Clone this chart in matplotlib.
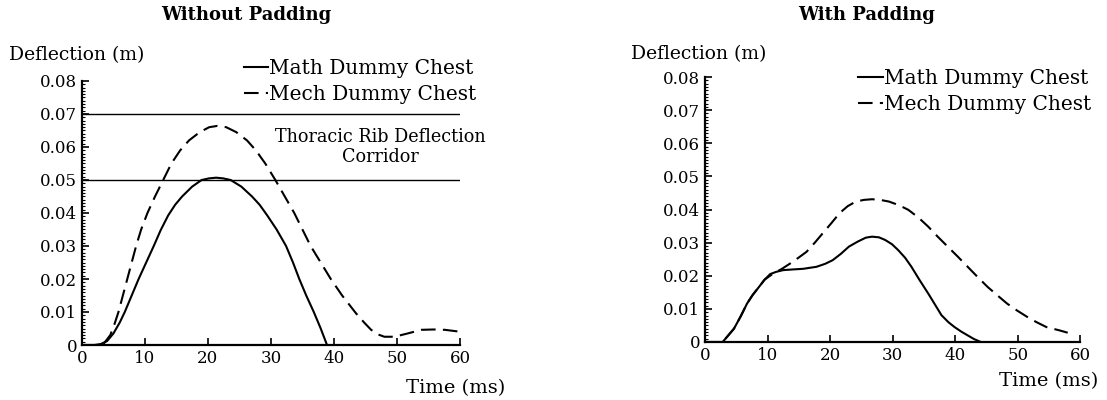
import numpy as np
import matplotlib.pyplot as plt
from matplotlib.ticker import MultipleLocator

plt.rcParams['font.family'] = ['DejaVu Serif']

# --- Without padding ---
t_math_a = [0, 2.0, 3.0, 4.0, 5.0, 6.0, 6.8, 7.9, 9.0, 10.2, 11.4, 12.5, 13.7, 14.8, 15.9, 17.5, 19.0,
            20.2, 21.3, 22.4, 23.6, 25.3, 27.0, 28.2, 29.4, 30.9, 32.4, 33.5, 34.5, 35.6, 36.8, 37.9, 38.9]
y_math_a = [0, 0, 0.0003, 0.0012, 0.0035, 0.0068, 0.0100, 0.0150, 0.0200, 0.0250, 0.0300, 0.0348, 0.0393,
            0.0425, 0.0450, 0.0480, 0.0500, 0.0505, 0.0507, 0.0505, 0.0500, 0.0480, 0.0450, 0.0425, 0.0393,
            0.0350, 0.0300, 0.0250, 0.0200, 0.0150, 0.0100, 0.0050, 0.0]
t_mech_a = [0, 2.5, 3.5, 4.5, 5.2, 5.8, 6.5, 7.2, 7.9, 8.6, 9.4, 10.4, 11.6, 12.9, 14.2, 15.6, 17.0,
            18.7, 20.2, 21.5, 22.9, 24.5, 26.2, 27.6, 29.1, 30.7, 32.2, 33.7, 35.0, 36.3, 37.9, 39.5,
            41.3, 43.5, 44.8, 45.9, 47.0, 48.0, 49.6, 51.7, 53.9, 55.8, 57.6, 59.7]
y_mech_a = [0, 0, 0.0005, 0.0030, 0.0065, 0.0100, 0.0150, 0.0200, 0.0250, 0.0300, 0.0350, 0.0400, 0.0450,
            0.0500, 0.0550, 0.0590, 0.0620, 0.0645, 0.0660, 0.0664, 0.0660, 0.0645, 0.0620, 0.0590, 0.0550,
            0.0500, 0.0450, 0.0400, 0.0350, 0.0300, 0.0250, 0.0200, 0.0150, 0.0096, 0.0068, 0.0046, 0.0032,
            0.0025, 0.0025, 0.0035, 0.0046, 0.0047, 0.0046, 0.0041]
corridor = [0.05, 0.07]

# --- With padding ---
t_math_b = [0, 2.8, 4.6, 5.7, 6.7, 7.6, 8.6, 9.5, 10.4, 11.4, 12.5, 14.0, 15.7, 17.8, 19.2, 20.4, 21.7,
            23.0, 24.4, 25.7, 26.7, 27.8, 28.8, 29.9, 30.9, 32.0, 33.0, 34.3, 35.7, 36.8, 37.8, 38.9,
            39.9, 41.0, 42.0, 43.0, 44.1]
y_math_b = [0, 0, 0.0040, 0.0078, 0.0116, 0.0142, 0.0166, 0.0188, 0.0205, 0.0212, 0.0217, 0.0219, 0.0221,
            0.0227, 0.0236, 0.0247, 0.0266, 0.0288, 0.0303, 0.0315, 0.0318, 0.0316, 0.0308, 0.0295, 0.0277,
            0.0254, 0.0227, 0.0187, 0.0146, 0.0112, 0.0081, 0.0060, 0.0045, 0.0031, 0.0020, 0.0009, 0.0]
t_mech_b = [0, 2.8, 4.6, 5.7, 6.7, 7.6, 8.6, 9.5, 10.9, 12.2, 13.6, 14.9, 16.2, 17.5, 18.8, 20.2, 21.5,
            22.8, 24.1, 25.4, 26.7, 28.0, 29.4, 31.0, 32.5, 34.1, 35.7, 37.2, 38.8, 40.4, 42.0, 43.6,
            45.2, 46.8, 48.3, 49.9, 51.5, 53.0, 54.6, 56.7, 58.0]
y_mech_b = [0, 0, 0.0040, 0.0078, 0.0116, 0.0142, 0.0166, 0.0188, 0.0207, 0.0220, 0.0237, 0.0254, 0.0272,
            0.0299, 0.0328, 0.0359, 0.0389, 0.0410, 0.0424, 0.0429, 0.0431, 0.0429, 0.0424, 0.0413, 0.0399,
            0.0376, 0.0348, 0.0318, 0.0288, 0.0258, 0.0227, 0.0196, 0.0166, 0.0140, 0.0116, 0.0095, 0.0076,
            0.0060, 0.0045, 0.0035, 0.0028]

dash = (0, (7, 3.5))
fig = plt.figure(figsize=(11.07, 4), dpi=100)
ax1 = fig.add_axes([0.074, 0.1375, 0.3415, 0.66])
ax2 = fig.add_axes([0.637, 0.145, 0.3388, 0.6625])

for ax in (ax1, ax2):
    ax.set_xlim(0, 60)
    ax.set_ylim(0, 0.08)
    ax.spines['top'].set_visible(False)
    ax.spines['right'].set_visible(False)
    ax.spines['left'].set_linewidth(1.6)
    ax.spines['bottom'].set_linewidth(1.6)
    ax.xaxis.set_major_locator(MultipleLocator(10))
    ax.yaxis.set_major_locator(MultipleLocator(0.01))
    ax.yaxis.set_minor_locator(MultipleLocator(0.001))
    ax.tick_params(direction='in', length=5, width=1.2, labelsize=12)
    ax.tick_params(which='minor', direction='in', length=2.5, width=0.8)
    ax.set_yticks(np.arange(0, 0.081, 0.01))
    ax.set_yticklabels(['0'] + ['%.2f' % v for v in np.arange(0.01, 0.081, 0.01)])
    ax.patch.set_alpha(0)

ax1.plot(t_math_a, y_math_a, color='k', lw=1.5, label='Math Dummy Chest')
ax1.plot(t_mech_a, y_mech_a, color='k', lw=1.5, linestyle=dash, label='Mech Dummy Chest')
for c in corridor:
    ax1.plot([0, 60], [c, c], color='k', lw=1.0)
ax1.text(47.3, 0.0600, 'Thoracic Rib Deflection\nCorridor', ha='center', va='center',
         fontsize=12.7, linespacing=1.1)

ax2.plot(t_math_b, y_math_b, color='k', lw=1.5, label='Math Dummy Chest')
ax2.plot(t_mech_b, y_mech_b, color='k', lw=1.5, linestyle=dash, label='Mech Dummy Chest')

ax1.legend(loc='upper right', bbox_to_anchor=(1.065, 1.115), frameon=False, fontsize=14.5,
           handlelength=1.2, handletextpad=0.05, labelspacing=0.35, borderaxespad=0)
ax2.legend(loc='upper right', bbox_to_anchor=(1.05, 1.06), frameon=False, fontsize=14.5,
           handlelength=1.2, handletextpad=0.05, labelspacing=0.35, borderaxespad=0)

fig.text(0.222, 0.962, 'Without Padding', ha='center', va='center', fontsize=13, fontweight='bold')
fig.text(0.783, 0.962, 'With Padding', ha='center', va='center', fontsize=13, fontweight='bold')
fig.text(0.008, 0.862, 'Deflection (m)', ha='left', va='center', fontsize=13.5)
fig.text(0.570, 0.865, 'Deflection (m)', ha='left', va='center', fontsize=13.5)
fig.text(0.456, 0.03, 'Time (ms)', ha='right', va='center', fontsize=14)
fig.text(0.992, 0.048, 'Time (ms)', ha='right', va='center', fontsize=14)

fig.savefig('out.png', dpi=100)
